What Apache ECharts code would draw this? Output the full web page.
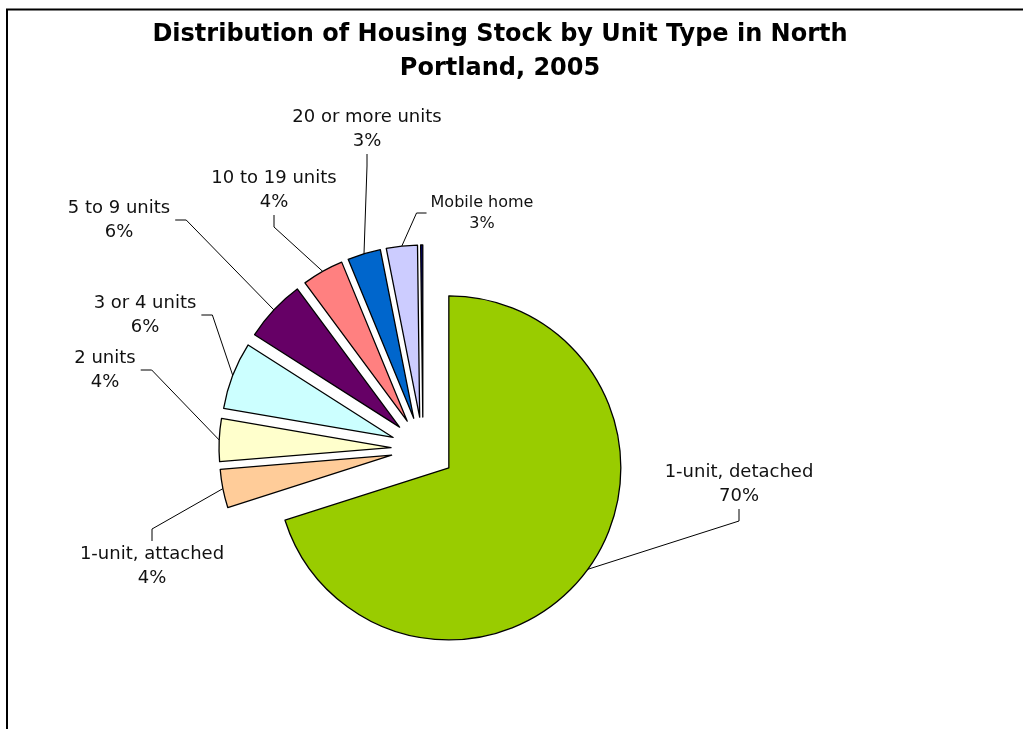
<!DOCTYPE html>
<html>
<head>
<meta charset="utf-8">
<title>Housing Stock by Unit Type, North Portland 2005</title>
<script src="https://cdn.jsdelivr.net/npm/echarts@6/dist/echarts.min.js"></script>
<style>
html, body { margin: 0; padding: 0; background: #fff; }
#chart { width: 1023px; height: 729px; }
</style>
</head>
<body>
<div id="chart"></div>
<script>
// unit types, clockwise from 12 o'clock
let categories = [
    '1-unit, detached', '1-unit, attached', '2 units', '3 or 4 units',
    '5 to 9 units', '10 to 19 units', '20 or more units', 'Mobile home',
    'Boat, RV, van, etc.'
]
// share of housing units (%)
let shares = [69.8, 3.6, 4.0, 6.3, 5.8, 3.9, 3.1, 2.9, 0.2]
let colors = [
    '#99CC00', '#FFCC99', '#FFFFCC', '#CCFFFF',
    '#660066', '#FF8080', '#0066CC', '#CCCCFF', '#000080'
]

// where each label sits (centre of text) and which side the leader leaves from
let labelSpots = [
    [739, 484, 'bottom'],
    [152, 566, 'top'],
    [105, 370, 'right'],
    [145, 315, 'right'],
    [119, 220, 'right'],
    [274, 190, 'bottom'],
    [367, 129, 'bottom'],
    [482, 213, 'left'],
    null
]

let pieCenter = [423, 449]
let pieRadius = 172
let explode = 32

let chart = echarts.init(document.getElementById('chart'))

// slices (exploded through the selected state)
let sliceData = categories.map((name, i) => ({
    name: name,
    value: shares[i],
    selected: true,
    itemStyle: { color: colors[i] }
}))

// same values again, invisible, only to carry the labels
let labelData = categories.map((name, i) => {
    let item = { name: name, value: shares[i] }
    if (!labelSpots[i]) {
        item.label = { show: false }
        item.labelLine = { show: false }
    }
    if (name === 'Mobile home') {
        item.label = { fontSize: 16, lineHeight: 21 }
    }
    return item
})

let option = {
    animation: false,
    title: {
        text: 'Distribution of Housing Stock by Unit Type in North\nPortland, 2005',
        left: 495,
        textAlign: 'center',
        top: 13,
        textStyle: {
            fontFamily: 'DejaVu Sans',
            fontWeight: 'bold',
            fontSize: 24,
            lineHeight: 34,
            color: '#000'
        }
    },
    graphic: [
        {
            type: 'polyline',
            shape: { points: [[7, 740], [7, 9.5], [1030, 9.5]] },
            style: { stroke: '#000', lineWidth: 2, fill: null },
            silent: true
        }
    ],
    series: [
        {
            name: 'slices',
            type: 'pie',
            center: pieCenter,
            radius: pieRadius,
            startAngle: 90,
            clockwise: true,
            selectedMode: 'multiple',
            selectedOffset: explode,
            emphasis: { disabled: true },
            itemStyle: {
                borderColor: '#000',
                borderWidth: 1.3
            },
            label: { show: false },
            labelLine: { show: false },
            data: sliceData
        },
        {
            name: 'labels',
            type: 'pie',
            center: pieCenter,
            radius: pieRadius,
            startAngle: 90,
            clockwise: true,
            silent: true,
            selectedMode: false,
            percentPrecision: 0,
            avoidLabelOverlap: false,
            emphasis: { disabled: true },
            itemStyle: { color: 'rgba(0,0,0,0)', borderWidth: 0 },
            label: {
                show: true,
                formatter: '{b}\n{d}%',
                fontFamily: 'DejaVu Sans',
                fontSize: 18,
                lineHeight: 24,
                color: '#111'
            },
            labelLine: {
                show: true,
                lineStyle: { color: '#000', width: 1 }
            },
            labelLayout: (params) => {
                let spot = labelSpots[params.dataIndex]
                if (!spot) return {}
                let x = spot[0], y = spot[1]
                let w = params.labelRect.width, h = params.labelRect.height
                // push the arc anchor out by the explode distance
                let p = params.labelLinePoints[0]
                let vx = p[0] - pieCenter[0], vy = p[1] - pieCenter[1]
                let len = Math.sqrt(vx * vx + vy * vy) || 1
                let start = [p[0] + vx / len * explode, p[1] + vy / len * explode]
                let a, b
                if (spot[2] === 'bottom') {
                    a = [x, y + h / 2 + 1]; b = [x, y + h / 2 + 13]
                } else if (spot[2] === 'top') {
                    a = [x, y - h / 2 - 1]; b = [x, y - h / 2 - 13]
                } else if (spot[2] === 'right') {
                    a = [x + w / 2 + 5, y]; b = [x + w / 2 + 16, y]
                } else {
                    a = [x - w / 2 - 4, y]; b = [x - w / 2 - 14, y]
                }
                return {
                    x: x,
                    y: y,
                    align: 'center',
                    verticalAlign: 'middle',
                    labelLinePoints: [start, b, a]
                }
            },
            data: labelData
        }
    ]
}
chart.setOption(option)
</script>
</body>
</html>
